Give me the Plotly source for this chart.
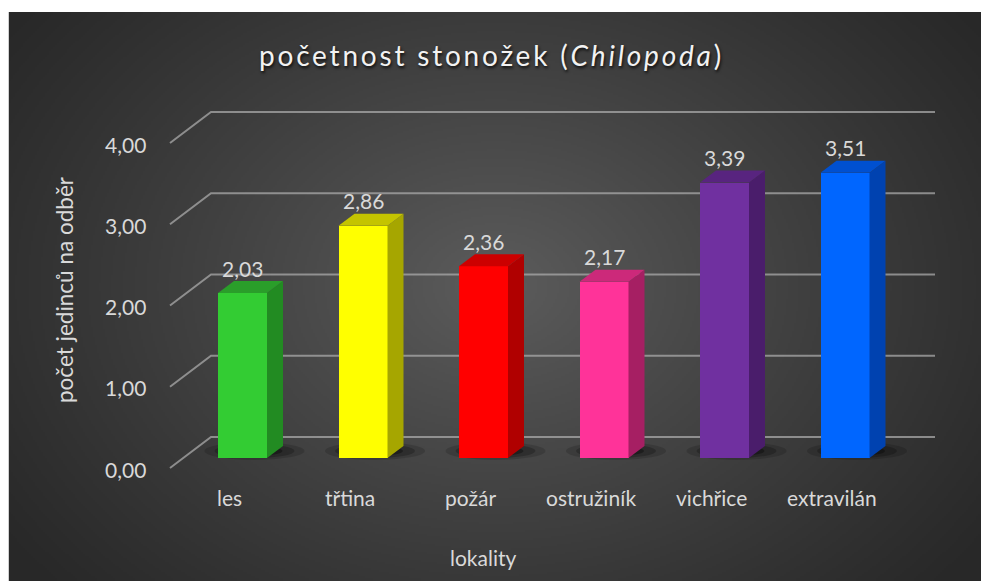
import numpy as np
import zlib, struct, base64
import plotly.graph_objects as go

# ---------------- data ----------------
categories = ["les", "třtina", "požár", "ostružiník", "vichřice", "extravilán"]
values = [2.03, 2.86, 2.36, 2.17, 3.39, 3.51]
front_colors = ["#33CC33", "#FFFF00", "#FF0000", "#FF3399", "#7030A0", "#0066FF"]
side_colors = ["#228B22", "#A6A600", "#B00000", "#A61F63", "#4A1D6B", "#0042B0"]
top_colors = ["#2A9E2A", "#C4C400", "#CC0000", "#CC297A", "#58247F", "#0050D0"]
y_ticks = [0, 1, 2, 3, 4]
y_tick_labels = ["0,00", "1,00", "2,00", "3,00", "4,00"]
title_main = "početnost stonožek ("
title_italic = "Chilopoda"
title_end = ")"
x_title = "lokality"
y_title = "počet jedinců na odběr"

# ---------------- geometry (pixel scale of the axes) ----------------
W, H = 981, 581
PX_X = 120.5   # px per category
PX_Y = 81.25   # px per unit
X0_PX = 242.5  # px of first category centre
Y0_PX = 458.0  # px of value 0 (bar front base)


def dx(px):
    return px / PX_X


def dy(px):
    return px / PX_Y


BAR_W = dx(49)
DEP_X, DEP_Y = dx(16), dy(12)          # bar depth
FRONT_X, FRONT_Y = dx(-13), dy(-10)    # front wall plane offset
BACK_Y = dy(21)                        # back wall plane offset
GRID_BACK_X0 = dx(211 - X0_PX)
GRID_BACK_X1 = dx(935 - X0_PX)
GRID_FRONT_X0 = GRID_BACK_X0 - dx(41)

xr = [dx(0 - X0_PX), dx(W - X0_PX)]
yr = [dy(Y0_PX - H), dy(Y0_PX)]

# ---------------- background gradient image ----------------
def make_png(arr):
    h, w, _ = arr.shape
    raw = b"".join(b"\x00" + arr[r].tobytes() for r in range(h))

    def chunk(t, d):
        c = struct.pack(">I", len(d)) + t + d
        return c + struct.pack(">I", zlib.crc32(t + d) & 0xFFFFFFFF)

    png = b"\x89PNG\r\n\x1a\n"
    png += chunk(b"IHDR", struct.pack(">IIBBBBB", w, h, 8, 2, 0, 0, 0))
    png += chunk(b"IDAT", zlib.compress(raw, 9))
    png += chunk(b"IEND", b"")
    return png


gw, gh = 487, 285
yy, xx = np.mgrid[0:gh, 0:gw].astype(float)
cx, cy = gw * 0.50, gh * 0.48
r = np.sqrt(((xx - cx) / (gw * 0.62)) ** 2 + ((yy - cy) / (gh * 0.80)) ** 2)
r = np.clip(r, 0, 1)
val = 40 + 52 * (1 - r) ** 1.1
img = np.clip(np.stack([val, val, val], axis=-1), 0, 255).astype(np.uint8)
bg_uri = "data:image/png;base64," + base64.b64encode(make_png(img)).decode()

# ---------------- figure ----------------
fig = go.Figure()

n = len(categories)
idx = list(range(n))
fig.add_trace(go.Bar(
    x=idx, y=values, width=BAR_W,
    marker=dict(color=front_colors, line=dict(width=0)),
    hoverinfo="skip", showlegend=False,
))

for i, v in enumerate(values):
    xl, xrgt = i - BAR_W / 2, i + BAR_W / 2
    fig.add_trace(go.Scatter(
        x=[xrgt, xrgt + DEP_X, xrgt + DEP_X, xrgt, xrgt],
        y=[0, DEP_Y, v + DEP_Y, v, 0],
        fill="toself", fillcolor=side_colors[i], mode="lines",
        line=dict(width=0, color=side_colors[i]),
        hoverinfo="skip", showlegend=False,
    ))
    fig.add_trace(go.Scatter(
        x=[xl, xrgt, xrgt + DEP_X, xl + DEP_X, xl],
        y=[v, v, v + DEP_Y, v + DEP_Y, v],
        fill="toself", fillcolor=top_colors[i], mode="lines",
        line=dict(width=0, color=top_colors[i]),
        hoverinfo="skip", showlegend=False,
    ))

shapes = []
shapes.append(dict(type="line", xref="paper", yref="paper",
                   x0=8.5 / W, x1=8.5 / W, y0=0, y1=1 - 12 / H,
                   line=dict(color="#d0d0d0", width=1), layer="below"))
for g in y_ticks:
    path = (f"M {GRID_FRONT_X0},{g + FRONT_Y} L {GRID_BACK_X0},{g + BACK_Y} "
            f"L {GRID_BACK_X1},{g + BACK_Y}")
    shapes.append(dict(type="path", xref="x", yref="y", path=path,
                       line=dict(color="rgba(170,170,170,0.75)", width=2),
                       layer="below"))
for i, v in enumerate(values):
    ccx, ccy = i + dx(12), dy(7)
    for hw, hh, op in [(50, 9, 0.15), (40, 7, 0.22), (28, 5, 0.32)]:
        shapes.append(dict(type="circle", xref="x", yref="y",
                           x0=ccx - dx(hw), x1=ccx + dx(hw),
                           y0=ccy - dy(hh), y1=ccy + dy(hh),
                           fillcolor=f"rgba(0,0,0,{op})",
                           line=dict(width=0), layer="below"))

FONT = "Lato"
TXT = "#d9d9d9"
FS = 21
ann = []
title_html = (f'<span style="letter-spacing:2.8px">{title_main}<i>{title_italic}</i>'
              f'{title_end}</span>')
ann.append(dict(text=title_html, xref="paper", yref="paper",
                x=491 / W, y=1 - 55 / H, showarrow=False,
                xanchor="center", yanchor="middle",
                font=dict(family=FONT, size=28, color="#f2f2f2",
                          shadow="1px 2px 3px rgba(0,0,0,0.8)")))
for i, v in enumerate(values):
    ann.append(dict(text=f"{v:.2f}".replace(".", ","), x=i, y=v + DEP_Y + dy(13),
                    xref="x", yref="y", showarrow=False,
                    xanchor="center", yanchor="middle",
                    font=dict(family=FONT, size=FS, color=TXT)))
for i, c in enumerate(categories):
    ann.append(dict(text=c, x=i + FRONT_X, y=dy(Y0_PX - 497),
                    xref="x", yref="y", showarrow=False,
                    xanchor="center", yanchor="middle",
                    font=dict(family=FONT, size=FS, color=TXT)))
for g, lab in zip(y_ticks, y_tick_labels):
    ann.append(dict(text=lab, x=GRID_FRONT_X0 - dx(22), y=g + FRONT_Y - dy(1),
                    xref="x", yref="y", showarrow=False,
                    xanchor="right", yanchor="middle",
                    font=dict(family=FONT, size=FS, color=TXT)))
ann.append(dict(text=x_title, xref="paper", yref="paper",
                x=483 / W, y=1 - 557 / H, showarrow=False,
                xanchor="center", yanchor="middle",
                font=dict(family=FONT, size=FS, color=TXT)))
ann.append(dict(text=y_title, xref="paper", yref="paper",
                x=64 / W, y=1 - 290 / H, showarrow=False, textangle=-90,
                xanchor="center", yanchor="middle",
                font=dict(family=FONT, size=22.5, color=TXT)))

fig.update_layout(
    width=W, height=H, autosize=False,
    margin=dict(l=0, r=0, t=0, b=0, pad=0),
    paper_bgcolor="white", plot_bgcolor="rgba(0,0,0,0)",
    xaxis=dict(range=xr, visible=False, fixedrange=True),
    yaxis=dict(range=yr, visible=False, fixedrange=True),
    shapes=shapes, annotations=ann,
    images=[dict(source=bg_uri, xref="paper", yref="paper",
                 x=8 / W, y=1 - 12 / H, sizex=1 - 8 / W, sizey=1 - 12 / H,
                 xanchor="left", yanchor="top", sizing="stretch",
                 layer="below")],
    bargap=0,
)

fig.write_html("out.html", config={"displayModeBar": False},
               post_script="document.body.style.margin='0';"
                           "document.body.style.overflow='hidden';")
